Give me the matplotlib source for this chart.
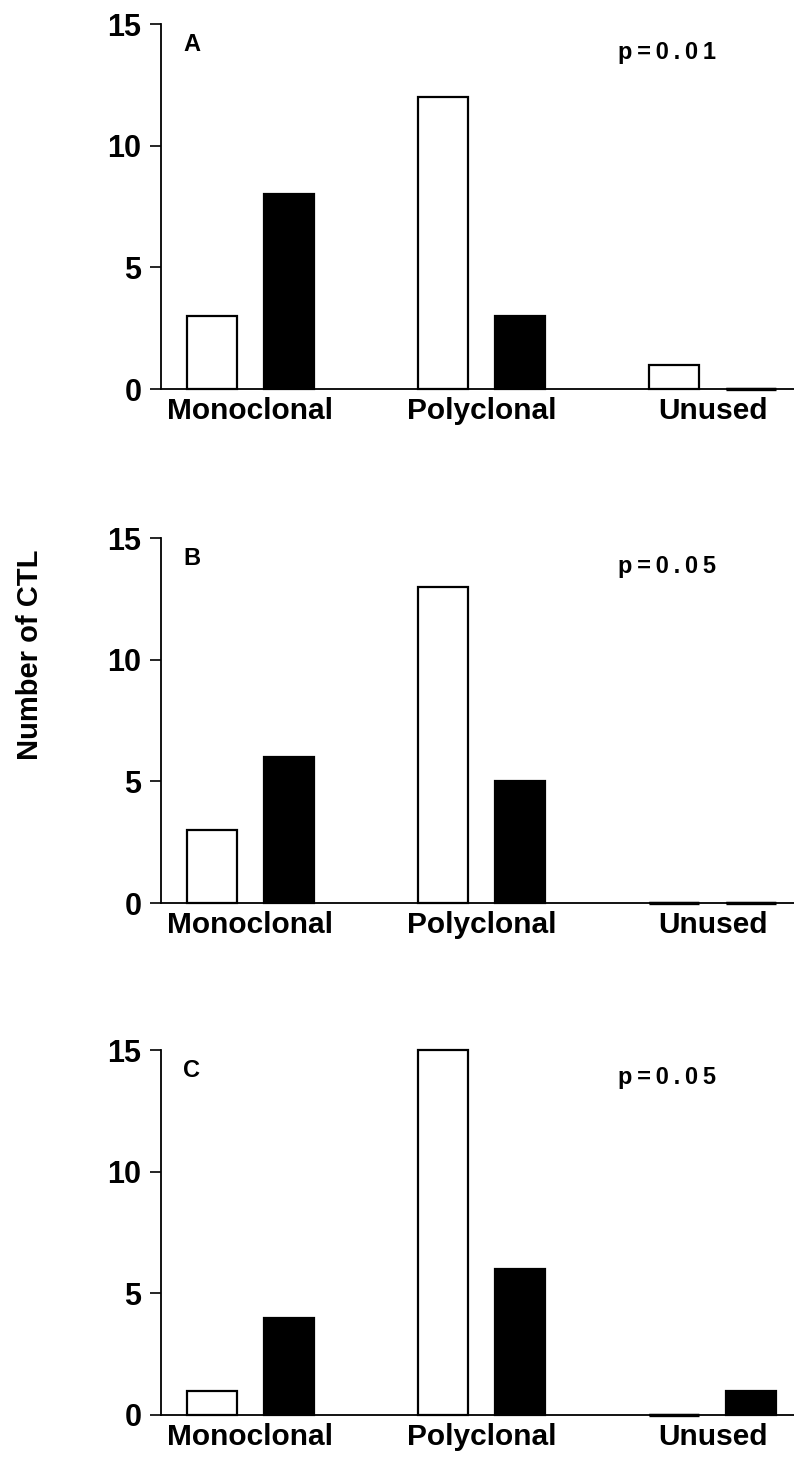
import matplotlib.pyplot as plt
import numpy as np

plt.rcParams['font.family'] = ['Liberation Sans', 'DejaVu Sans']
plt.rcParams['font.weight'] = 'bold'

categories = ['Monoclonal', 'Polyclonal', 'Unused']
panels = ['A', 'B', 'C']
p_values = ['p=0.01', 'p=0.05', 'p=0.05']
white_counts = [[3, 12, 1], [3, 13, 0], [1, 15, 0]]
black_counts = [[8, 3, 0], [6, 5, 0], [4, 6, 1]]

fig = plt.figure(figsize=(7.94, 14.61), dpi=100)
bottoms = [0.7337, 0.3819, 0.0315]
x = np.arange(len(categories))
w = 0.216
off = 0.166

for i in range(3):
    ax = fig.add_axes([0.2028, bottoms[i], 0.797, 0.2498])
    for pos, vals, col in [(x - off, white_counts[i], 'white'), (x + off, black_counts[i], 'black')]:
        ax.bar(pos, vals, w, color=col, edgecolor='black', linewidth=1.6, zorder=3, clip_on=False)
        # zero-count bars show as a thick line on the baseline
        zeros = np.array(vals) == 0
        if zeros.any():
            ax.hlines(np.zeros(zeros.sum()), pos[zeros] - w / 2, pos[zeros] + w / 2,
                      colors='black', linewidth=2.4, zorder=4, clip_on=False)
    ax.set_xlim(-0.385, 2.35)
    ax.set_ylim(0, 15)
    ax.set_yticks([0, 5, 10, 15])
    ax.set_xticks(x)
    ax.set_xticklabels(categories, fontsize=21.5, fontweight='bold')
    ax.tick_params(axis='x', length=0, pad=6)
    ax.tick_params(axis='y', length=8, width=1.2, labelsize=22, pad=6)
    for lab in ax.get_yticklabels():
        lab.set_fontweight('bold')
    ax.spines['top'].set_visible(False)
    ax.spines['right'].set_visible(False)
    ax.spines['left'].set_linewidth(1.3)
    ax.spines['bottom'].set_linewidth(1.3)
    ax.text(0.035, 0.975, panels[i], transform=ax.transAxes, ha='left', va='top',
            fontsize=17, fontweight='bold')
    ax.text(0.722, 0.955, '\u2009'.join(p_values[i]), transform=ax.transAxes,
            ha='left', va='top', fontsize=17, fontweight='bold')

fig.text(0.038, 1 - 655 / 1461, 'Number of CTL', rotation=90, ha='center', va='center',
         fontsize=21, fontweight='bold')

plt.savefig('out.png', dpi=100)
